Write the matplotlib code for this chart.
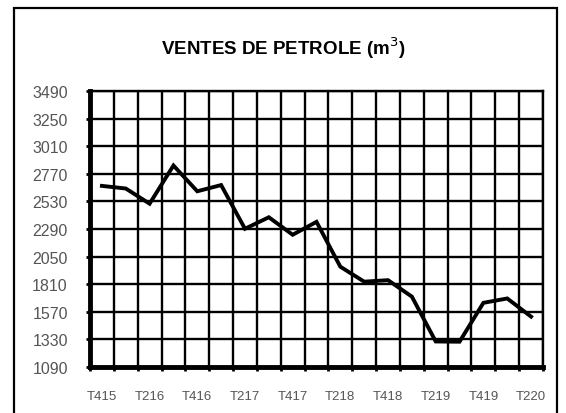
import numpy as np
import matplotlib.pyplot as plt
from matplotlib.patches import Rectangle

quarters = ['T415', 'T116', 'T216', 'T316', 'T416', 'T117', 'T217', 'T317',
            'T417', 'T118', 'T218', 'T318', 'T418', 'T119', 'T219', 'T319',
            'T419', 'T120', 'T220']
ventes = [2665, 2642, 2510, 2842, 2618, 2672, 2292, 2392, 2240, 2352,
          1962, 1832, 1845, 1702, 1312, 1310, 1648, 1686, 1528]
y_ticks = [1090, 1330, 1570, 1810, 2050, 2290, 2530, 2770, 3010, 3250, 3490]

plt.rcParams['font.family'] = ['Liberation Sans', 'DejaVu Sans']

fig = plt.figure(figsize=(5.66, 4.14), dpi=100)
ax = fig.add_axes([90 / 566, 1 - 368 / 414, (543 - 90) / 566, (368 - 92) / 414])

# outer frame (cut at the bottom like the picture)
fig.patches.append(Rectangle((14 / 566, -0.05), (557 - 14) / 566, 1.05 - 9 / 414,
                             transform=fig.transFigure, fill=False,
                             lw=1.6, ec='black'))

x = np.arange(len(quarters))
ax.plot(x, ventes, color='black', lw=2.8, solid_joinstyle='miter', zorder=3)

ax.set_xlim(-0.5, len(quarters) - 0.5)
ax.set_ylim(y_ticks[0], y_ticks[-1])

ax.set_yticks(y_ticks)
ax.set_yticklabels([str(v) for v in y_ticks])
ax.set_xticks(x[::2])
ax.set_xticklabels(quarters[::2])
ax.set_xticks(np.arange(len(quarters) + 1) - 0.5, minor=True)

ax.grid(True, which='minor', axis='x', color='black', lw=1.7)
ax.grid(True, which='major', axis='y', color='black', lw=1.7)
ax.set_axisbelow(True)

ax.tick_params(axis='y', which='major', length=3, width=2, direction='out',
               pad=13, labelsize=11.5, labelcolor='#555555', color='black')
ax.tick_params(axis='x', which='major', length=0, pad=16.5, labelsize=9.5,
               labelcolor='#555555')
ax.tick_params(axis='x', which='minor', length=3, width=2, direction='out')

for side in ['left', 'bottom']:
    ax.spines[side].set_linewidth(3.5)
for side in ['top', 'right']:
    ax.spines[side].set_linewidth(1.7)

fig.text(0.5, 1 - 48 / 414, r'VENTES DE PETROLE (m$^3$)', ha='center',
         va='center', fontsize=13.5, fontweight='bold')

fig.savefig('out.png', dpi=100)
